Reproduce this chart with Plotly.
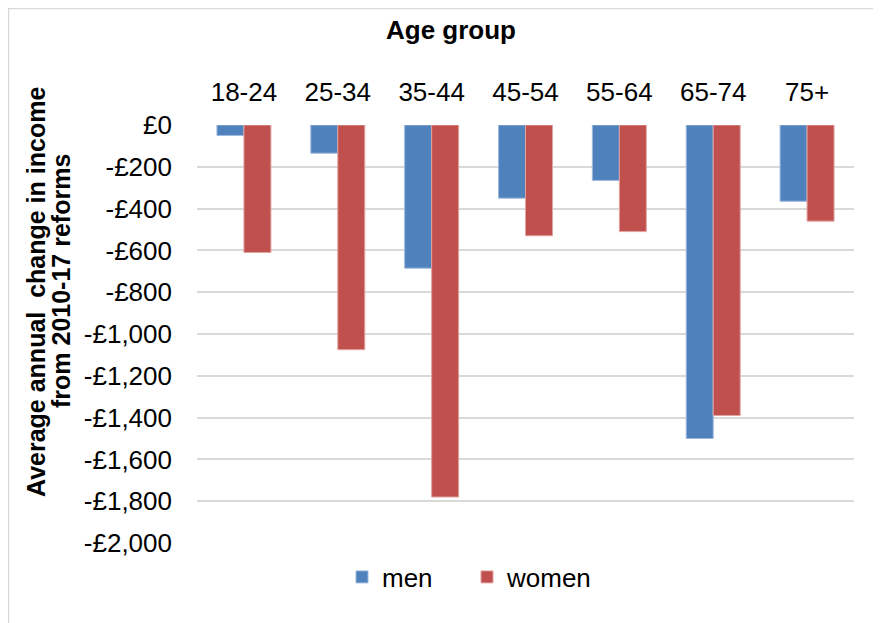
import plotly.graph_objects as go

FONT = "Liberation Sans, Arial, sans-serif"

age_groups = ["18-24", "25-34", "35-44", "45-54", "55-64", "65-74", "75+"]
men = [-50, -135, -685, -350, -265, -1500, -365]
women = [-610, -1075, -1780, -530, -510, -1390, -460]

tick_vals = [0, -200, -400, -600, -800, -1000, -1200, -1400, -1600, -1800, -2000]
tick_text = ["£0", "-£200", "-£400", "-£600", "-£800", "-£1,000", "-£1,200",
             "-£1,400", "-£1,600", "-£1,800", "-£2,000"]

# page body adds an 8px offset, so work in screen pixels and shift
OFF = 8
W, H = 881 - OFF, 623 - OFF
L, T = 197 - OFF, 125 - OFF
R, B = W - (854 - OFF), H - (543 - OFF)
pw, ph = W - L - R, H - T - B


def px_x(x):
    return (x - OFF - L) / pw


def px_y(y):
    return (H - B - (y - OFF)) / ph


fig = go.Figure()
fig.add_trace(go.Bar(
    x=age_groups, y=men, name="men",
    marker=dict(color="#4F81BD", line=dict(color="#9DB8DC", width=1)),
))
fig.add_trace(go.Bar(
    x=age_groups, y=women, name="women",
    marker=dict(color="#C0504D", line=dict(color="#E2A3A1", width=1)),
))

# y axis title, one annotation per line
y_title = [("Average annual  change in income", 36, 292),
           ("from 2010-17 reforms", 61, 281)]
annotations = [
    dict(text="<b>Age group</b>", xref="paper", yref="paper",
         x=px_x(451), y=px_y(30), showarrow=False,
         xanchor="center", yanchor="middle", font=dict(size=26)),
]
for txt, xc, yc in y_title:
    annotations.append(dict(
        text=f"<b>{txt}</b>", xref="paper", yref="paper",
        x=px_x(xc), y=px_y(yc), textangle=-90, showarrow=False,
        xanchor="center", yanchor="middle", font=dict(size=25),
    ))

fig.update_layout(
    width=W, height=H,
    margin=dict(l=L, r=R, t=T, b=B),
    paper_bgcolor="white", plot_bgcolor="white",
    font=dict(family=FONT, size=26, color="black"),
    barmode="group", bargap=0.425, bargroupgap=0,
    xaxis=dict(
        side="top", showgrid=False, showline=False, zeroline=False,
        ticks="", ticklabelstandoff=18,
        tickfont=dict(size=26),
    ),
    yaxis=dict(
        range=[-2000, 0], tickvals=tick_vals, ticktext=tick_text,
        showgrid=True, gridcolor="#D9D9D9", gridwidth=1.5,
        zeroline=False, showline=False, ticks="",
        ticklabelstandoff=24, tickfont=dict(size=26),
    ),
    legend=dict(
        orientation="h", x=px_x(342), y=px_y(577),
        xanchor="left", yanchor="middle",
        font=dict(size=26), itemwidth=30, entrywidth=80, traceorder="normal",
    ),
    annotations=annotations,
    shapes=[
        dict(type="rect", xref="paper", yref="paper",
             x0=px_x(8.5), x1=px_x(900), y0=px_y(640), y1=px_y(8.5),
             line=dict(color="#D9D9D9", width=1.5), layer="below"),
    ],
)

fig.write_html("out.html")
